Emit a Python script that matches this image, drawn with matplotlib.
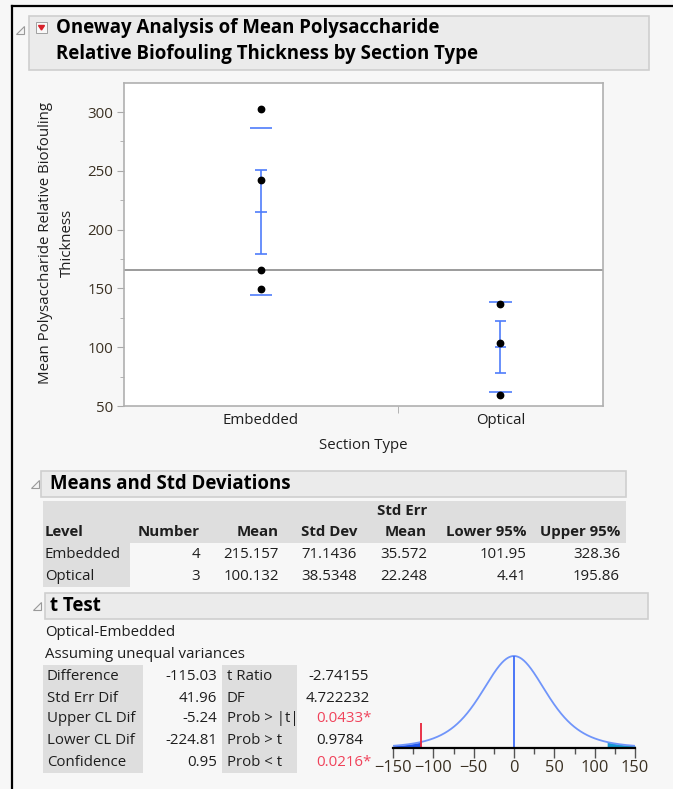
import math
import numpy as np
import matplotlib.pyplot as plt
from matplotlib.patches import Rectangle, Polygon

plt.rcParams['font.family'] = ['Open Sans', 'DejaVu Sans']

W, H = 673, 789

# --- data ---
groups = ['Embedded', 'Optical']
counts = [4, 3]
embedded_vals = [302.9, 242.6, 165.8, 149.3]
optical_vals = [136.8, 104.0, 59.6]
means = [215.157, 100.132]
std_devs = [71.1436, 38.5348]
std_errs = [35.572, 22.248]
lower95 = [101.95, 4.41]
upper95 = [328.36, 195.86]
grand_mean = 165.86

tt_labels1 = ['Difference', 'Std Err Dif', 'Upper CL Dif', 'Lower CL Dif', 'Confidence']
tt_values1 = ['-115.03', '41.96', '-5.24', '-224.81', '0.95']
tt_labels2 = ['t Ratio', 'DF', 'Prob > |t|', 'Prob > t', 'Prob < t']
tt_values2 = ['-2.74155', '4.722232', '0.0433*', '0.9784', '0.0216*']
tt_signif = [False, False, True, False, True]
diff = -115.03
se_dif = 41.96
df_t = 4.722232

BLUE = '#4f7dfb'
TXT = '#1e1e1e'
TICK_TXT = '#3a3022'
CELL = '#dedede'
FS = 10.8
HFS = 13.4


def px_axes(x0, y0, x1, y1):
    return fig.add_axes([x0 / W, 1 - y1 / H, (x1 - x0) / W, (y1 - y0) / H])


def disclosure(x, y):
    ov.add_patch(Polygon([(x, y + 8), (x + 8, y + 8), (x + 8, y)], closed=True,
                         facecolor='#f4f4f4', edgecolor='#9a9a9a', lw=0.8))


fig = plt.figure(figsize=(W / 100, H / 100), dpi=100, facecolor='#f7f7f7')
ov = fig.add_axes([0, 0, 1, 1], zorder=0)
ov.set_xlim(0, W)
ov.set_ylim(H, 0)
ov.axis('off')

# outer frame (only top and left visible in the crop)
ov.plot([12, W], [6, 6], color='black', lw=1.6)
ov.plot([12, 12], [6, H], color='black', lw=1.6)

# title box
ov.add_patch(Rectangle((29, 16), 620, 54, facecolor='#ebebeb', edgecolor='#cfcfcf', lw=1.2))
disclosure(16, 26)
ov.add_patch(Rectangle((36, 22), 11, 11, facecolor='#f8f8f8', edgecolor='#a0a0a0', lw=0.7))
ov.add_patch(Polygon([(38.5, 25.5), (44.5, 25.5), (41.5, 30)], closed=True, color='#d8202a'))
ov.text(56, 28, 'Oneway Analysis of Mean Polysaccharide', fontsize=HFS, fontweight='bold',
        va='center', ha='left', color='black')
ov.text(56, 54, 'Relative Biofouling Thickness by Section Type', fontsize=HFS, fontweight='bold',
        va='center', ha='left', color='black')

# --- oneway plot ---
ax = px_axes(124, 83, 603, 406)
ax.set_facecolor('white')
edges = np.concatenate([[0], np.cumsum(counts)])
centers = (edges[:-1] + edges[1:]) / 2
for c, vals in zip(centers, [embedded_vals, optical_vals]):
    ax.plot([c] * len(vals), vals, 'o', color='black', ms=4.6, zorder=4)
for c, m, sd, se in zip(centers, means, std_devs, std_errs):
    ax.hlines([m - sd, m + sd], c - 0.165, c + 0.165, color=BLUE, lw=1.2, zorder=3)
    ax.vlines(c, m - se, m + se, color=BLUE, lw=1.2, zorder=3)
    ax.hlines([m - se, m, m + se], c - 0.085, c + 0.085, color=BLUE, lw=1.2, zorder=3)
ax.axhline(grand_mean, color='#8a8a8a', lw=1.2, zorder=2)
ax.set_xlim(0, edges[-1])
ax.set_ylim(50, 324.7)
ax.set_yticks(range(50, 301, 50))
ax.set_yticks(range(75, 301, 50), minor=True)
ax.set_xticks(centers)
ax.set_xticklabels(groups)
ax.set_xticks(edges[1:-1], minor=True)
ax.tick_params(axis='x', which='major', length=0, labelsize=FS, labelcolor=TXT, pad=5)
ax.tick_params(axis='x', which='minor', length=5, color='#a8a8a8')
ax.tick_params(axis='y', which='major', length=5, color='#a8a8a8', labelsize=FS,
               labelcolor=TICK_TXT, pad=3)
ax.tick_params(axis='y', which='minor', length=3, color='#a8a8a8')
for s in ax.spines.values():
    s.set_color('#b0b0b0')
    s.set_linewidth(1.2)
ov.text(46, 243, 'Mean Polysaccharide Relative Biofouling', rotation=90, fontsize=FS,
        ha='center', va='center', color=TXT)
ov.text(67, 243, 'Thickness', rotation=90, fontsize=FS, ha='center', va='center', color=TXT)
ov.text(363, 445, 'Section Type', fontsize=FS, ha='center', va='center', color=TXT)

# --- Means and Std Deviations ---
disclosure(31, 480)
ov.add_patch(Rectangle((41, 471), 585, 26, facecolor='#ebebeb', edgecolor='#cfcfcf', lw=1.2))
ov.text(50, 484, 'Means and Std Deviations', fontsize=HFS, fontweight='bold',
        va='center', ha='left', color='black')
ov.add_patch(Rectangle((43, 501), 583, 42, facecolor=CELL, edgecolor='none'))
ov.add_patch(Rectangle((43, 543), 87, 44, facecolor=CELL, edgecolor='none'))
ov.text(45, 532, 'Level', fontsize=FS, fontweight='bold', va='center', color=TXT)
col_right = [200, 279, 357, 427, 526, 620]
col_head = ['Number', 'Mean', 'Std Dev', 'Mean', 'Lower 95%', 'Upper 95%']
for xr, h in zip(col_right, col_head):
    ov.text(xr, 532, h, fontsize=FS, fontweight='bold', va='center', ha='right', color=TXT)
ov.text(427, 511, 'Std Err', fontsize=FS, fontweight='bold', va='center', ha='right', color=TXT)
for i, yy in enumerate([554, 576]):
    row = [f'{counts[i]}', f'{means[i]:.3f}', f'{std_devs[i]:.4f}', f'{std_errs[i]:.3f}',
           f'{lower95[i]:.2f}', f'{upper95[i]:.2f}']
    ov.text(45, yy, groups[i], fontsize=FS, va='center', color=TXT)
    for xr, v in zip(col_right, row):
        ov.text(xr, yy, v, fontsize=FS, va='center', ha='right', color=TXT)

# --- t Test ---
disclosure(33, 602)
ov.add_patch(Rectangle((45, 593), 603, 26, facecolor='#ebebeb', edgecolor='#cfcfcf', lw=1.2))
ov.text(50, 606, 't Test', fontsize=HFS, fontweight='bold', va='center', ha='left', color='black')
ov.text(45, 633, 'Optical-Embedded', fontsize=FS, va='center', color=TXT)
ov.text(45, 655, 'Assuming unequal variances', fontsize=FS, va='center', color=TXT)
ov.add_patch(Rectangle((43, 665), 100, 108, facecolor=CELL, edgecolor='none'))
ov.add_patch(Rectangle((222, 665), 75, 108, facecolor=CELL, edgecolor='none'))
val2_x = [308, 306, 316, 316, 316]
for i, yy in enumerate([677, 698, 719, 741, 763]):
    ov.text(47, yy, tt_labels1[i], fontsize=FS, va='center', color=TXT)
    ov.text(217, yy, tt_values1[i], fontsize=FS, va='center', ha='right', color=TXT)
    ov.text(227, yy, tt_labels2[i], fontsize=FS, va='center', color=TXT)
    ov.text(val2_x[i], yy, tt_values2[i], fontsize=FS, va='center',
            color='#f0425a' if tt_signif[i] else TXT)

# --- t distribution sketch ---
tx = px_axes(393, 648, 635, 748)
tx.set_facecolor('none')
xs = np.linspace(-150, 150, 601)
cst = math.gamma((df_t + 1) / 2) / (math.sqrt(df_t * math.pi) * math.gamma(df_t / 2))
dens = cst * (1 + (xs / se_dif) ** 2 / df_t) ** (-(df_t + 1) / 2) / se_dif
tx.plot(xs, dens, color='#7095fa', lw=1.3)
left = xs <= diff
right = xs >= -diff
tx.fill_between(xs[left], 0, dens[left], color='#2157ee', lw=0)
tx.fill_between(xs[right], 0, dens[right], color='#159bd2', lw=0)
tx.vlines(0, 0, dens.max(), color='#3d6cf7', lw=1.3)
tx.vlines(diff, 0, dens.max() * 0.27, color='#e8243a', lw=1.3)
tx.set_xlim(-150, 150)
tx.set_ylim(0, dens.max() / 0.92)
for s in ['top', 'left', 'right']:
    tx.spines[s].set_visible(False)
tx.spines['bottom'].set_linewidth(1.6)
tx.set_yticks([])
tx.set_xticks(range(-150, 151, 50))
tx.set_xticks(range(-125, 150, 50), minor=True)
tx.tick_params(axis='x', which='major', length=7, width=1, color='#555555', labelsize=11.8,
               labelcolor=TICK_TXT, pad=2)
tx.tick_params(axis='x', which='minor', length=4, width=1, color='#555555')

fig.savefig('out.png', dpi=100, facecolor=fig.get_facecolor())
